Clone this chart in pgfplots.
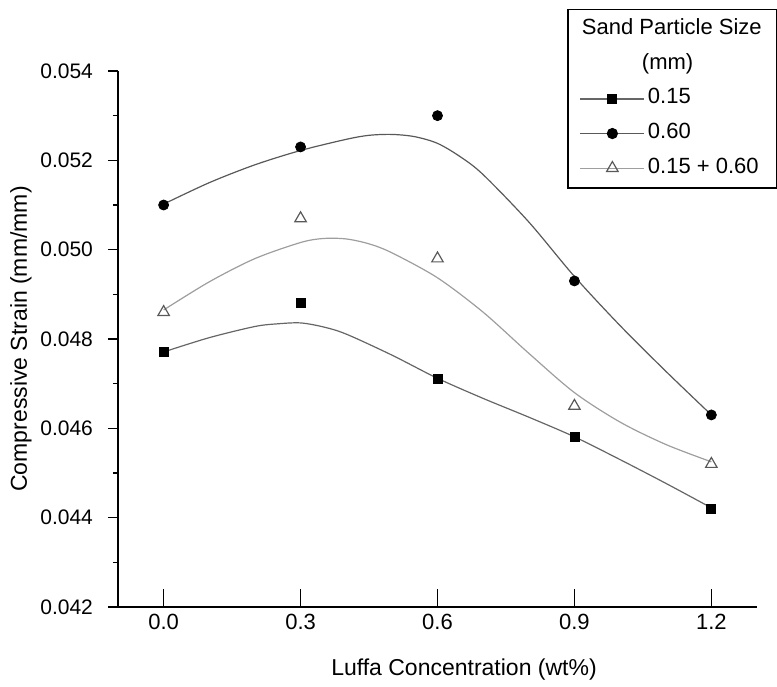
\documentclass[border=0pt]{standalone}
\usepackage{pgfplots}
\usepackage{pgfplotstable}
\pgfplotsset{compat=1.18}
\usepackage{fontspec}
\setmainfont{Liberation Sans}

% measured points
\pgfplotstableread{
x    sq     ci     tr
0.0  0.0477 0.0510 0.0486
0.3  0.0488 0.0523 0.0507
0.6  0.0471 0.0530 0.0498
0.9  0.0458 0.0493 0.0465
1.2  0.0442 0.0463 0.0452
}\pts

% fitted curves
\pgfplotstableread{
x    y
0.0  0.04771
0.1  0.04803
0.2  0.04828
0.25 0.04834
0.3  0.04836
0.35 0.04827
0.4  0.04811
0.5  0.04764
0.6  0.04712
0.7  0.04667
0.8  0.04625
0.9  0.04581
1.0  0.04530
1.1  0.04477
1.2  0.04422
}\fitsq

\pgfplotstableread{
x    y
0.0  0.05102
0.1  0.05150
0.2  0.05190
0.3  0.05222
0.4  0.05247
0.45 0.05256
0.5  0.05258
0.55 0.05253
0.6  0.05238
0.65 0.05208
0.7  0.05168
0.8  0.05062
0.9  0.04940
1.0  0.04830
1.1  0.04728
1.2  0.04630
}\fitci

\pgfplotstableread{
x    y
0.0  0.04865
0.1  0.04928
0.2  0.04980
0.3  0.05016
0.35 0.05025
0.4  0.05024
0.45 0.05013
0.5  0.04993
0.6  0.04937
0.7  0.04860
0.8  0.04768
0.9  0.04680
1.0  0.04614
1.1  0.04564
1.2  0.04525
}\fittr

\definecolor{lsq}{gray}{0.40}
\definecolor{lci}{gray}{0.35}
\definecolor{ltr}{gray}{0.62}

\begin{document}
\begin{tikzpicture}
\useasboundingbox (-59pt,-39.5pt) rectangle (329.5pt,303.5pt);
\begin{axis}[
    at={(0,0)}, anchor=south west,
    scale only axis,
    width=319.5pt, height=268pt,
    xmin=-0.1, xmax=1.3,
    ymin=0.042, ymax=0.054,
    axis x line*=bottom, axis y line*=left,
    axis line style={line width=0.75pt},
    xtick={0,0.3,0.6,0.9,1.2},
    xticklabels={0.0,0.3,0.6,0.9,1.2},
    ytick={0.042,0.044,0.046,0.048,0.050,0.052,0.054},
    yticklabels={0.042,0.044,0.046,0.048,0.050,0.052,0.054},
    scaled y ticks=false,
    minor y tick num=1,
    xtick align=inside, ytick align=outside,
    major tick length=9pt, minor tick length=2.5pt,
    every major y tick/.append style={/pgfplots/major tick length=5pt},
    tick style={line width=0.75pt, black},
    x tick label style={font=\fontsize{11}{13}\selectfont},
    y tick label style={font=\fontsize{10.5}{13}\selectfont},
    xlabel={Luffa Concentration (wt\%)},
    ylabel={Compressive Strain (mm/mm)},
    label style={font=\fontsize{11.5}{14}\selectfont},
    xlabel style={at={(axis description cs:0.5415,-0.1175)}, anchor=center},
    ylabel style={at={(axis description cs:-0.1518,0.5)}, anchor=center},
    legend style={
        at={(axis description cs:0.7027,1.1157)}, anchor=north west,
        draw=black, line width=0.75pt,
        font=\fontsize{11}{13}\selectfont,
        inner xsep=6pt, inner ysep=3pt,
        row sep=3.3pt,
        nodes={inner sep=1.5pt, text height=8pt, text depth=3pt},
    },
    legend cell align=left,
    legend image code/.code={
        \draw[mark repeat=2,mark phase=2] plot coordinates {(0pt,0pt)(16pt,0pt)(32pt,0pt)};
    },
]
\addlegendimage{empty legend}
\addlegendentry{\hspace*{-33pt}Sand Particle Size}
\addlegendimage{empty legend}
\addlegendentry{\hspace*{-3pt}(mm)}
\addlegendimage{lsq, line width=0.6pt, mark=square*, mark size=2.25pt, mark options={fill=black, draw=black, solid}}
\addlegendentry{0.15}
\addlegendimage{lci, line width=0.6pt, mark=*, mark size=2.5pt, mark options={fill=black, draw=black, solid}}
\addlegendentry{0.60}
\addlegendimage{ltr, line width=0.6pt, mark=triangle, mark size=3.3pt, mark options={fill=white, draw=black!65, line width=0.6pt, solid}}
\addlegendentry{0.15 + 0.60}

% fitted curves
\addplot[lsq, line width=0.6pt, smooth, no marks, forget plot] table[x=x, y=y] {\fitsq};
\addplot[lci, line width=0.6pt, smooth, no marks, forget plot] table[x=x, y=y] {\fitci};
\addplot[ltr, line width=0.6pt, smooth, no marks, forget plot] table[x=x, y=y] {\fittr};

% data points
\addplot[only marks, mark=square*, mark size=2.25pt, fill=black, draw=black, forget plot] table[x=x, y=sq] {\pts};
\addplot[only marks, mark=*, mark size=2.5pt, fill=black, draw=black, forget plot] table[x=x, y=ci] {\pts};
\addplot[only marks, mark=triangle, mark size=3.3pt, mark options={fill=white, draw=black!65, line width=0.6pt}, forget plot] table[x=x, y=tr] {\pts};
\end{axis}
\end{tikzpicture}
\end{document}
